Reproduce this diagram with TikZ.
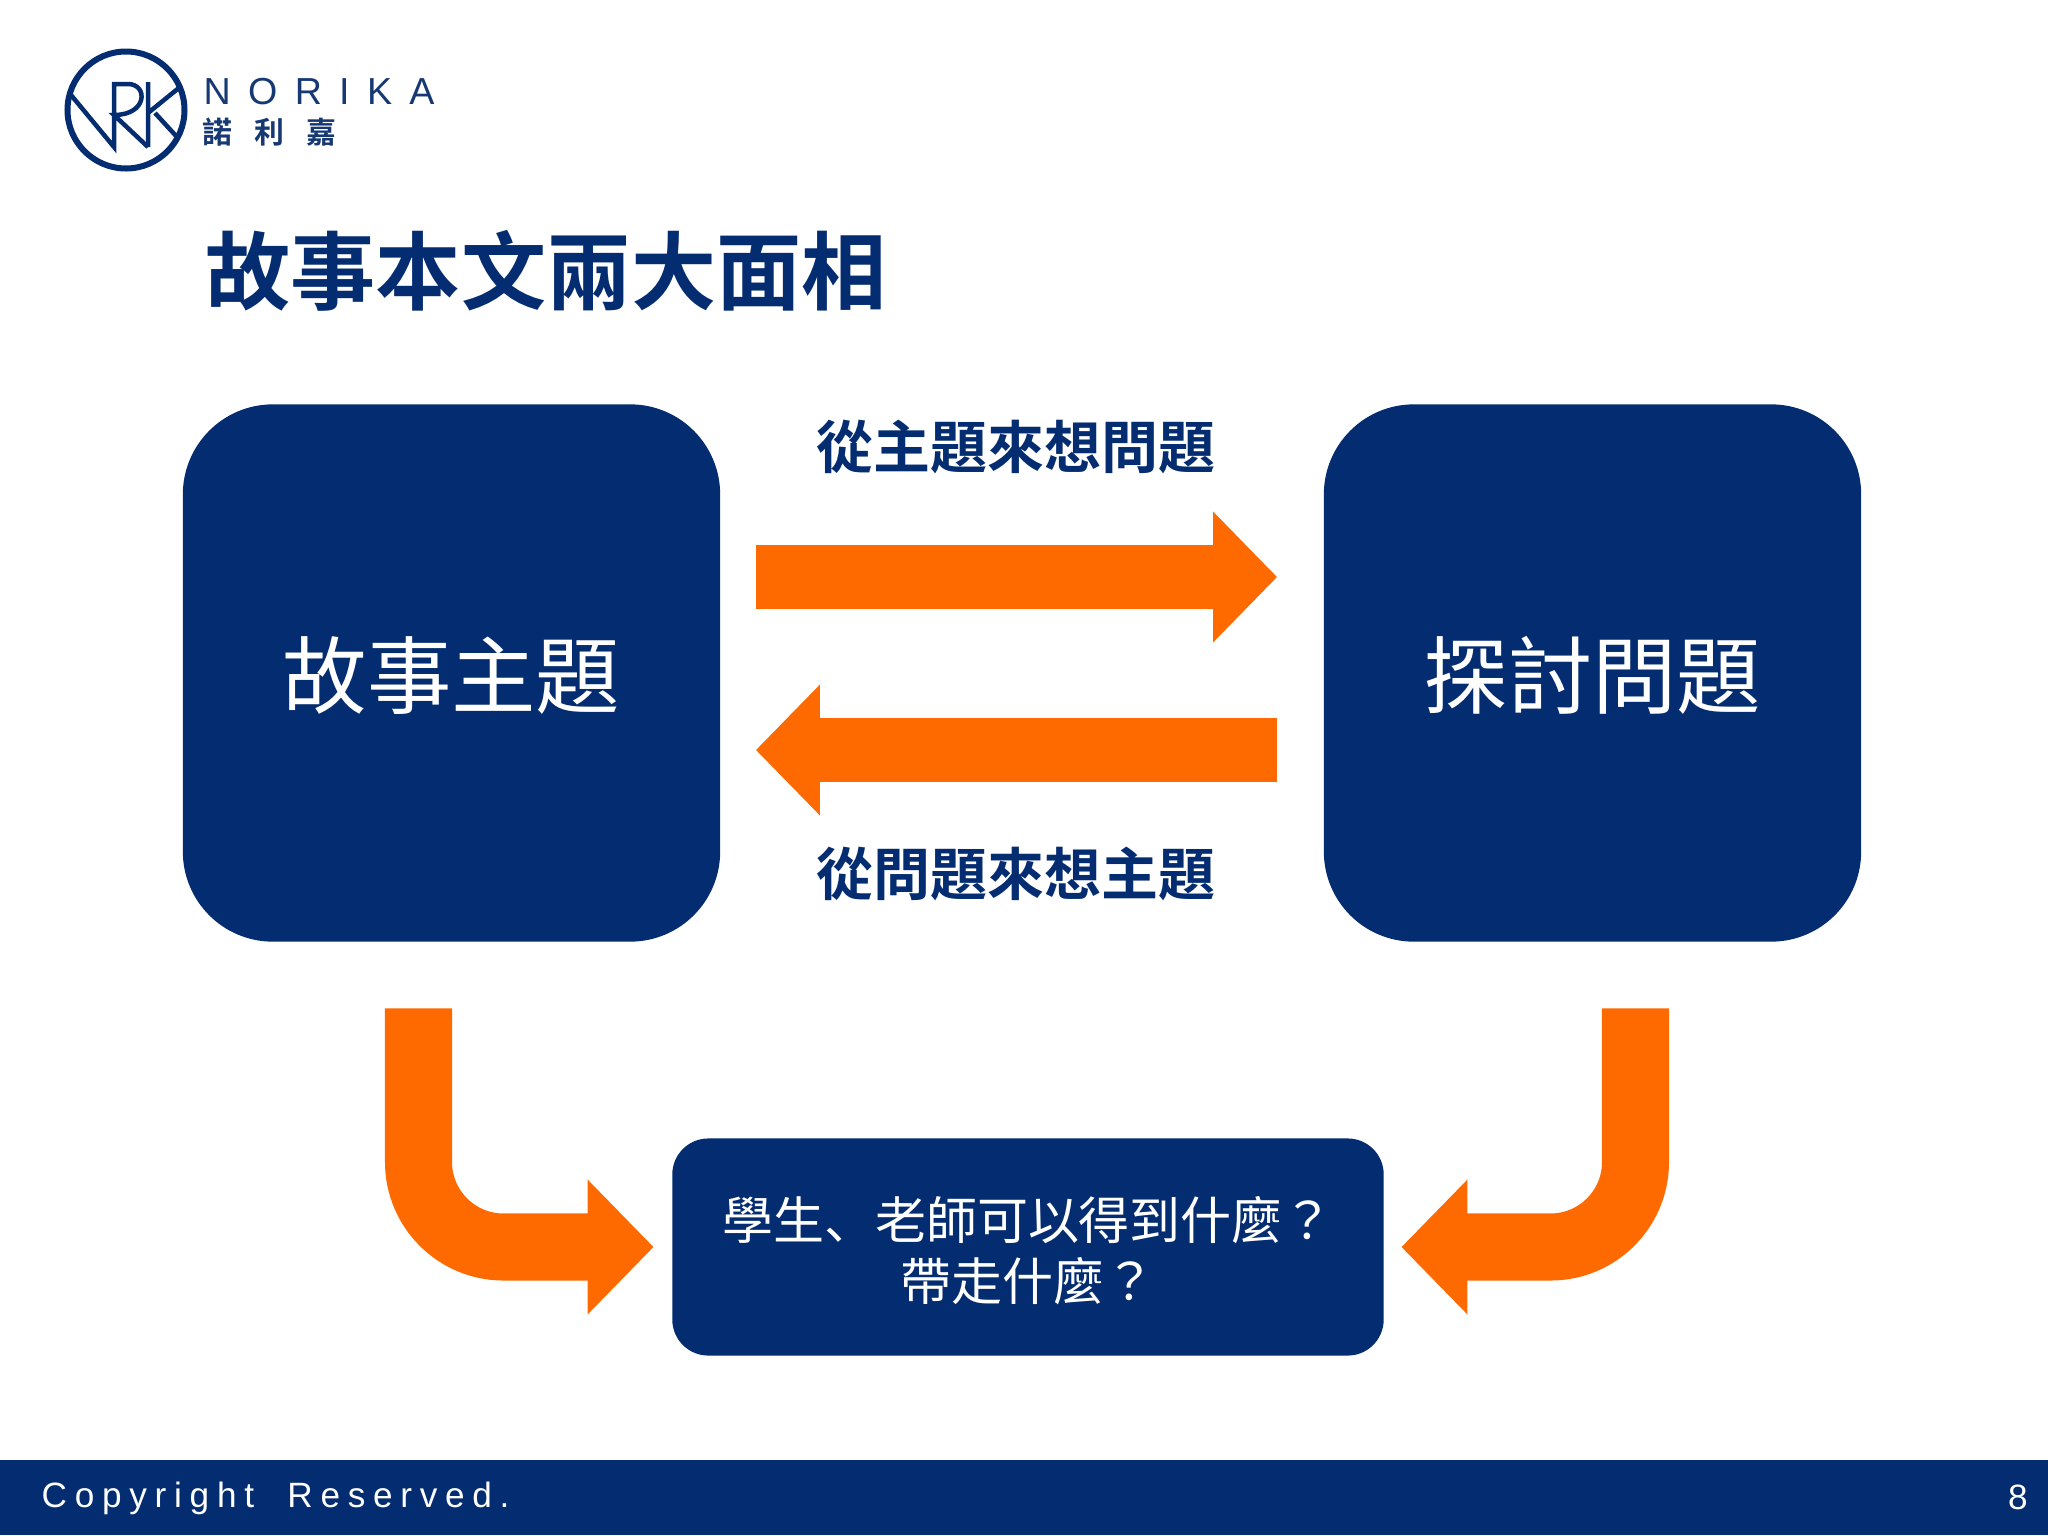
\documentclass[tikz,border=0pt]{standalone}
\usepackage{fontspec}
\usetikzlibrary{arrows.meta}
\setmainfont{Liberation Sans}
\newfontfamily\cjk[BoldFont={Noto Sans CJK TC Bold}]{Noto Sans CJK TC}
\newfontfamily\cjksc{Noto Sans CJK SC}
\definecolor{navy}{HTML}{042C71}
\definecolor{flame}{HTML}{FF6A00}
\tikzset{
bluebox/.style={fill=navy,text=white,inner sep=0pt,align=center,font=\cjk},
bigbox/.style={bluebox,minimum width=5.37cm,minimum height=5.37cm,rounded corners=.9cm,font=\cjk\fontsize{24}{24}\selectfont},
bigarrow/.style={draw=flame,line width=.64cm,-{Triangle[length=.64cm,width=1.27cm,fill=flame]}},
bentarrow/.style={draw=flame,line width=.67cm,rounded corners=.85cm,-{Triangle[length=.66cm,width=1.31cm,fill=flame]}},
arrowlabel/.style={text=navy,inner sep=0pt,font=\cjk\bfseries\fontsize{16.2}{16.2}\selectfont}
}
\begin{document}
\begin{tikzpicture}[x=.01cm,y=-.01cm,line join=miter]
\useasboundingbox (0,0) rectangle (2048,1536);
\fill[white] (0,0) rectangle (2048,1536);
\fill[navy] (0,1460) rectangle (2048,1535);
\node[text=white,anchor=west,inner sep=0pt,font=\addfontfeature{LetterSpace=22}\fontsize{10}{10}\selectfont] (copyright) at (41,1498) {Copyright\hspace{4.5pt} Reserved.};
\node[text=white,inner sep=0pt,font=\fontsize{10}{10}\selectfont] (pagenum) at (2018,1497) {8};
\draw[navy,line width=.06cm] (126,110) circle (58.5);
\draw[navy,line width=.045cm] (71,95) -- (114,147) -- (114,84) -- (128,84) .. controls (148,84) and (148,115) .. (114,115) -- (148,147);
\draw[navy,line width=.045cm] (148,82) -- (148,147) (148,113) -- (180,87) (155,113) -- (177,137);
\node[text=navy!85!gray,anchor=west,inner sep=0pt,font=\addfontfeature{LetterSpace=46}\fontsize{10.7}{10.7}\selectfont] (brand) at (203,92) {NORIKA};
\node[text=navy!85!gray,anchor=west,inner sep=0pt,font=\cjk\bfseries\addfontfeature{LetterSpace=73}\fontsize{8.5}{8.5}\selectfont] (brandzh) at (202,132) {諾利嘉};
\node[text=navy,anchor=west,inner sep=0pt,font=\cjk\bfseries\fontsize{24.2}{24.2}\selectfont] (title) at (205,271) {故事本文兩大面相};
\node[bigbox] (topic) at (451.5,673) {\raisebox{-.7pt}[\height][\depth]{故事主題}};
\node[bigbox] (question) at (1592.5,673) {\raisebox{-.7pt}[\height][\depth]{探討問題}};
\node[bluebox,minimum width=7.11cm,minimum height=2.17cm,rounded corners=.36cm,font=\cjk\fontsize{14.5}{17.5}\selectfont] (gain) at (1028,1247) {\rule{0pt}{14.3pt}學生{\cjksc 、}老師可以得到什麼？\\帶走什麼？};
\node[arrowlabel] (uplabel) at (1016,447) {從主題來想問題};
\node[arrowlabel] (downlabel) at (1016,874) {從問題來想主題};
\coordinate (upline) at (0,577);
\coordinate (downline) at (0,750);
\coordinate (bendleft) at (418.5,1247);
\coordinate (bendright) at (1635.5,1247);
\draw[bigarrow,shorten <=.35cm,shorten >=.46cm] (topic.east |- upline) -- (question.west |- upline);
\draw[bigarrow,shorten <=.46cm,shorten >=.35cm] (question.west |- downline) -- (topic.east |- downline);
\draw[bentarrow,shorten <=.66cm,shorten >=.18cm] (topic.south -| bendleft) -- (bendleft) -- (gain.west);
\draw[bentarrow,shorten <=.66cm,shorten >=.17cm] (question.south -| bendright) -- (bendright) -- (gain.east);
\end{tikzpicture}
\end{document}
